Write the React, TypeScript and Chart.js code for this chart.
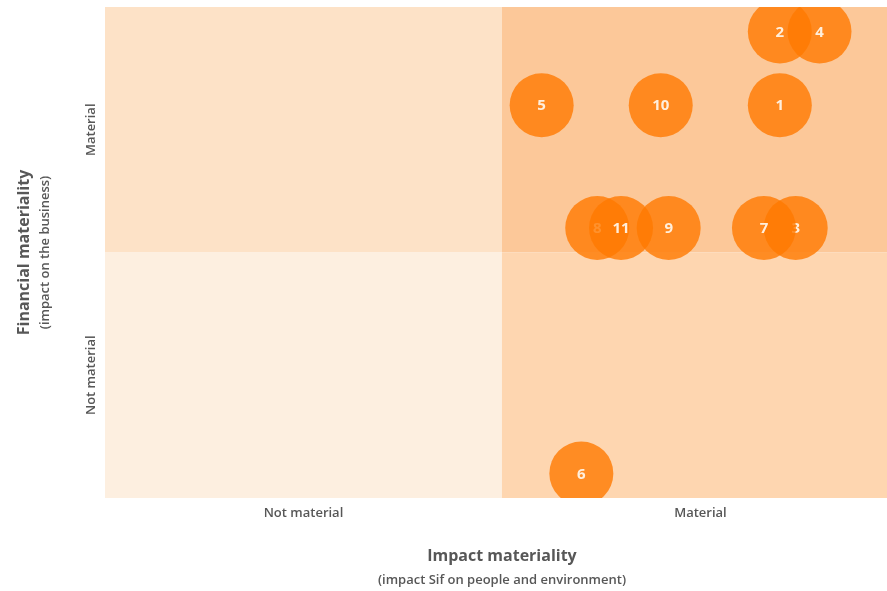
import React, { useEffect, useRef } from "react";
import { Chart, registerables } from "chart.js";

Chart.register(...registerables);

const topicLabels = ["1", "2", "3", "4", "5", "6", "7", "8", "9", "10", "11"];
const impactValues = [8.5, 8.5, 8.7, 9.0, 5.5, 6.0, 8.3, 6.2, 7.1, 7.0, 6.5];
const financialValues = [8.0, 9.5, 5.5, 9.5, 8.0, 0.5, 5.5, 5.5, 5.5, 8.0, 5.5];
const xTickLabels = ["Not material", "Material"];
const yTickLabels = ["Not material", "Material"];
const xTitle = ["Impact materiality", "(impact Sif on people and environment)"];
const yTitle = ["Financial materiality", "(impact on the business)"];

const FONT = "'Open Sans', 'DejaVu Sans', sans-serif";
const TEXT = "#575757";

const quadrantPlugin = {
  id: "quadrants",
  beforeDatasetsDraw(chart: any) {
    const { ctx, chartArea } = chart;
    const xs = chart.scales.x;
    const ys = chart.scales.y;
    const mx = xs.getPixelForValue(5);
    const my = ys.getPixelForValue(5);
    const { left, right, top, bottom } = chartArea;
    ctx.save();
    ctx.fillStyle = "#fde2c7";
    ctx.fillRect(left, top, mx - left, my - top);
    ctx.fillStyle = "#fcc899";
    ctx.fillRect(mx, top, right - mx, my - top);
    ctx.fillStyle = "#fdefe0";
    ctx.fillRect(left, my, mx - left, bottom - my);
    ctx.fillStyle = "#fed6b0";
    ctx.fillRect(mx, my, right - mx, bottom - my);
    ctx.restore();
  },
  afterDatasetDraw(chart: any, args: any) {
    const meta = chart.getDatasetMeta(args.index);
    const { ctx } = chart;
    ctx.save();
    ctx.font = `700 15px ${FONT}`;
    ctx.fillStyle = "rgba(255,244,232,0.95)";
    ctx.textAlign = "center";
    ctx.textBaseline = "middle";
    meta.data.forEach((el: any) => {
      ctx.fillText(chart.data.datasets[args.index].label, el.x, el.y + 1);
    });
    ctx.restore();
  },
  afterDraw(chart: any) {
    const { ctx, chartArea } = chart;
    const xs = chart.scales.x;
    const ys = chart.scales.y;
    ctx.save();
    ctx.fillStyle = TEXT;
    ctx.textAlign = "center";
    ctx.textBaseline = "middle";
    ctx.font = `600 13px ${FONT}`;
    [2.5, 7.5].forEach((v, i) => {
      ctx.fillText(xTickLabels[i], xs.getPixelForValue(v), chartArea.bottom + 15);
    });
    [2.5, 7.5].forEach((v, i) => {
      ctx.save();
      ctx.translate(chartArea.left - 14, ys.getPixelForValue(v));
      ctx.rotate(-Math.PI / 2);
      ctx.fillText(yTickLabels[i], 0, 0);
      ctx.restore();
    });
    const cx = xs.getPixelForValue(5);
    ctx.font = `700 16px ${FONT}`;
    ctx.fillText(xTitle[0], cx, chartArea.bottom + 58);
    ctx.font = `600 13px ${FONT}`;
    ctx.fillText(xTitle[1], cx, chartArea.bottom + 82);
    const cy = ys.getPixelForValue(5);
    ctx.save();
    ctx.translate(24, cy);
    ctx.rotate(-Math.PI / 2);
    ctx.font = `700 16px ${FONT}`;
    ctx.fillText(yTitle[0], 0, 0);
    ctx.restore();
    ctx.save();
    ctx.translate(45, cy);
    ctx.rotate(-Math.PI / 2);
    ctx.font = `600 13px ${FONT}`;
    ctx.fillText(yTitle[1], 0, 0);
    ctx.restore();
    ctx.restore();
  },
};

export default function App() {
  const ref = useRef<HTMLCanvasElement>(null);
  useEffect(() => {
    document.body.style.margin = "0";
    const n = topicLabels.length;
    const datasets = topicLabels.map((lab, i) => ({
      label: lab,
      order: n - i,
      data: [{ x: impactValues[i], y: financialValues[i], r: 32 }],
      backgroundColor: "rgba(255,121,0,0.8)",
      borderWidth: 0,
      hoverBorderWidth: 0,
    }));
    const chart = new Chart(ref.current!, {
      type: "bubble",
      data: { datasets },
      options: {
        animation: false,
        responsive: false,
        layout: { autoPadding: false, padding: { left: 105, top: 7, right: 0, bottom: 93 } },
        plugins: { legend: { display: false }, tooltip: { enabled: false } },
        scales: {
          x: { type: "linear", min: 0, max: 9.85, display: false },
          y: { type: "linear", min: 0, max: 10, display: false },
        },
      },
      plugins: [quadrantPlugin],
    });
    return () => chart.destroy();
  }, []);
  return (
    <div style={{ width: 887, height: 591 }}>
      <canvas ref={ref} width={887} height={591} />
    </div>
  );
}
